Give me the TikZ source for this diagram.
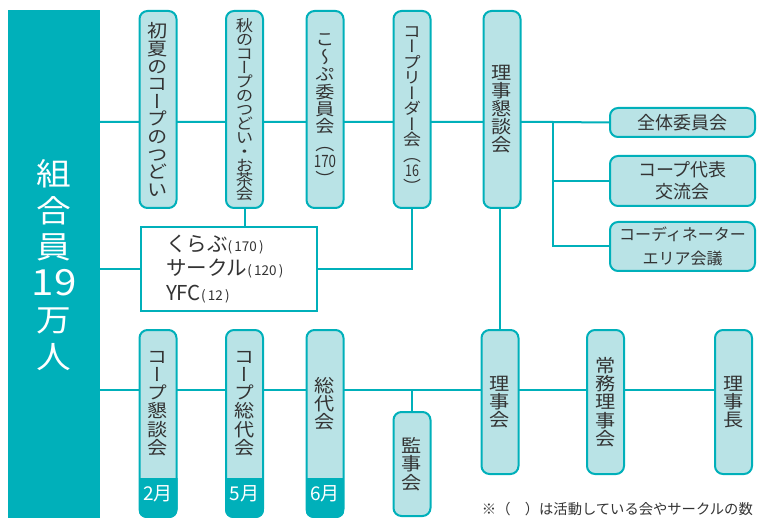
\documentclass[tikz,border=0pt]{standalone}
\usepackage{fontspec}
\setmainfont{Noto Sans CJK JP}
\newfontfamily\vjp[RawFeature=+vert, FakeStretch=1.12]{Noto Sans CJK JP}
\usetikzlibrary{backgrounds}
\definecolor{teal1}{HTML}{00B0BA}
\definecolor{light1}{HTML}{B9E3E6}
\definecolor{txt}{HTML}{333333}
\newcommand\smn[1]{{\fontsize{13.5}{13.5}\selectfont(\,#1\,)}}
\newcommand\tcy[1]{\scalebox{0.7}[1]{#1}}
\newcommand\ind{\hspace*{12pt}}
\begin{document}
\begin{tikzpicture}[x=1pt,y=-1pt,
  vbox/.style={draw=teal1, fill=light1, line width=2pt, rounded corners=8pt,
    inner sep=0pt, minimum width=37pt, align=center, text=txt},
  hbox/.style={draw=teal1, fill=light1, line width=2pt, rounded corners=8pt,
    inner sep=0pt, minimum width=145pt, align=center, text=txt},
  vf/.style args={#1/#2}{font={\vjp\fontsize{#1}{#2}\selectfont\lineskiplimit=-30pt}},
  hf/.style args={#1/#2}{font={\fontsize{#1}{#2}\selectfont\lineskiplimit=-30pt}},
  conn/.style={draw=teal1, line width=2pt},
  month/.style={text=white, font={\fontsize{19}{19}\selectfont}, inner sep=0pt}]
\useasboundingbox (0,0) rectangle (757,518);

% root
\node[fill=teal1, minimum width=92pt, minimum height=510pt, inner sep=0pt,
  text=white, align=center, vf=31/36.5] (root) at (54,265)
  {組\\合\\員\\{\fontsize{36}{36}\selectfont 19}\\万\\人};

% top row
\node[vbox, minimum height=197pt, vf=18/17.6] (b1) at (158,109.5)
  {初\\夏\\の\\コ\\ー\\プ\\の\\つ\\ど\\い};
\node[vbox, minimum height=197pt, vf=15.5/14] (b2) at (244.5,109.5)
  {秋\\の\\コ\\ー\\プ\\の\\つ\\ど\\い\\・\\お\\茶\\会};
\node[vbox, minimum height=197pt, vf=17/17.4] (b3) at (325,109.5)
  {こ\\～\\ぷ\\委\\員\\会\\（\\\tcy{170}\\）};
\node[vbox, minimum height=197pt, vf=16/15.5] (b4) at (412,109.5)
  {コ\\ー\\プ\\リ\\ー\\ダ\\ー\\会\\（\\\tcy{16}\\）};
\node[vbox, minimum height=197pt, vf=18/18] (b5) at (502,109.5)
  {理\\事\\懇\\談\\会};

% right boxes
\node[hbox, minimum height=29pt, hf=18/22] (r1) at (682.5,122.5) {全体委員会};
\node[hbox, minimum height=50pt, hf=18/22] (r2) at (682.5,181) {コープ代表\\交流会};
\node[hbox, minimum height=49pt, hf=16/24] (r3) at (682.5,246.5) {コーディネーター\\エリア会議};

% middle box
\node[draw=teal1, fill=white, line width=2pt, minimum width=176pt, minimum height=84pt,
  text width=150pt, inner xsep=13pt, inner ysep=0pt, align=left, text=txt,
  hf=20.5/24.5] (mid) at (229,269)
  {\ind くらぶ\smn{170}\\\ind サークル\smn{120}\\\ind YFC\smn{12}};

% bottom row
\node[vbox, minimum height=187pt] (c1) at (158,423.5) {};
\node[vbox, minimum height=187pt] (c2) at (244.5,423.5) {};
\node[vbox, minimum height=187pt] (c3) at (325,423.5) {};
\foreach \n in {c1,c2,c3}{
  \begin{scope}
    \clip[rounded corners=8pt] (\n.south west) rectangle (\n.north east);
    \fill[teal1] (\n.south west) rectangle ([yshift=40pt]\n.south east);
  \end{scope}
}
\node[align=center, text=txt, inner sep=0pt, vf=18/18.3] (t1) at (158,403.5) {コ\\ー\\プ\\懇\\談\\会};
\node[align=center, text=txt, inner sep=0pt, vf=18/18.3] (t2) at (244.5,403.5) {コ\\ー\\プ\\総\\代\\会};
\node[align=center, text=txt, inner sep=0pt, vf=18/18.3] (t3) at (325,403.5) {総\\代\\会};
\node[month] (m1) at (158,494) {2月};
\node[month] (m2) at (244.5,494) {5月};
\node[month] (m3) at (325,494) {6月};

\node[vbox, minimum height=104pt, vf=18/18.3] (kan) at (412,464) {監\\事\\会};
\node[vbox, minimum height=144pt, vf=18/18.3] (d1) at (500,402) {理\\事\\会};
\node[vbox, minimum height=144pt, vf=18/18.3] (d2) at (605.5,402) {常\\務\\理\\事\\会};
\node[vbox, minimum height=144pt, vf=18/18.3] (d3) at (733.5,402) {理\\事\\長};

% footnote
\node[anchor=east, text=txt, inner sep=0pt, hf=14.3/16] (note) at (753,509)
  {※（　）は活動している会やサークルの数};

% connectors
\coordinate (j1) at (553,122);
\coordinate (j2) at (412,390);
\begin{scope}[on background layer]
  \draw[conn] (root.east |- j1) -- (j1) -- (r1.west);
  \draw[conn] (j1) |- (r2.west);
  \draw[conn] (j1) |- (r3.west);
  \draw[conn] (b2.south) -- (b2.south |- mid.north);
  \draw[conn] (root.east |- mid.west) -- (mid.west);
  \draw[conn] (mid.east) -| (b4.south);
  \draw[conn] (b5.south -| d1.north) -- (d1.north);
  \draw[conn] (root.east |- j2) -- (d3.west |- j2);
  \draw[conn] (j2) -- (kan.north);
\end{scope}
\end{tikzpicture}
\end{document}
